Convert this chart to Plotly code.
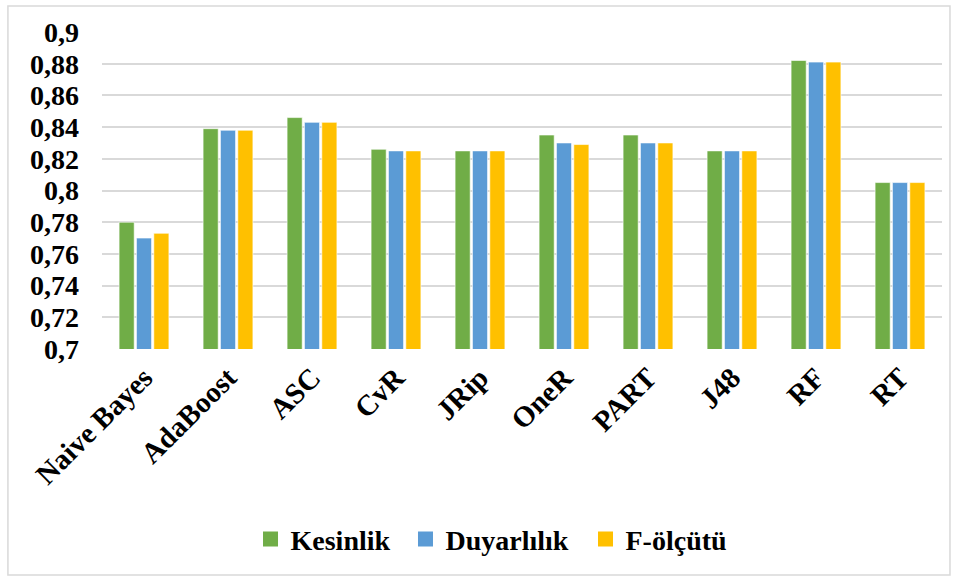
import plotly.graph_objects as go

categories = ["Naive Bayes", "AdaBoost", "ASC", "CvR", "JRip", "OneR", "PART", "J48", "RF", "RT"]
kesinlik = [0.780, 0.839, 0.846, 0.826, 0.825, 0.835, 0.835, 0.825, 0.882, 0.805]
duyarlilik = [0.770, 0.838, 0.843, 0.825, 0.825, 0.830, 0.830, 0.825, 0.881, 0.805]
f_olcutu = [0.773, 0.838, 0.843, 0.825, 0.825, 0.829, 0.830, 0.825, 0.881, 0.805]

tick_vals = [0.70, 0.72, 0.74, 0.76, 0.78, 0.80, 0.82, 0.84, 0.86, 0.88, 0.90]
tick_text = ["0,7", "0,72", "0,74", "0,76", "0,78", "0,8", "0,82", "0,84", "0,86", "0,88", "0,9"]

series = [
    ("Kesinlik", kesinlik, "#70AD47"),
    ("Duyarlılık", duyarlilik, "#5B9BD5"),
    ("F-ölçütü", f_olcutu, "#FFC000"),
]

FONT = "'Liberation Serif', 'Times New Roman', serif"

fig = go.Figure()
for name, vals, color in series:
    fig.add_trace(go.Bar(
        x=categories, y=vals, name=name, showlegend=False,
        marker=dict(color=color, line=dict(color="rgba(255,255,255,0.6)", width=1)),
    ))

# one legend per series so each entry can be placed on its own
legend_ids = ["legend", "legend2", "legend3"]
legend_x = [0.1768, 0.3613, 0.5756]
for (name, vals, color), lid in zip(series, legend_ids):
    fig.add_trace(go.Scatter(
        x=[None], y=[None], mode="markers", name=name, legend=lid,
        marker=dict(symbol="square", size=15, color=color),
    ))

legend_style = dict(
    orientation="h", xanchor="left", y=-0.60, yanchor="middle",
    font=dict(family=FONT, size=28, color="black", weight="bold"),
    itemsizing="trace", bgcolor="rgba(0,0,0,0)",
)
layout_legends = {lid: dict(legend_style, x=lx) for lid, lx in zip(legend_ids, legend_x)}

fig.update_layout(
    width=958, height=579,
    margin=dict(l=102, r=16, t=32, b=230),
    paper_bgcolor="white", plot_bgcolor="white",
    barmode="group", bargap=0.38, bargroupgap=0.13,
    font=dict(family=FONT, color="black"),
    showlegend=True,
    xaxis=dict(
        tickangle=-45, showgrid=False, showline=False, ticks="",
        ticklabelstandoff=5,
        tickfont=dict(family=FONT, size=29, color="black", weight="bold"),
    ),
    yaxis=dict(
        range=[0.7, 0.9], tickvals=tick_vals, ticktext=tick_text,
        showgrid=True, gridcolor="#D9D9D9", gridwidth=2,
        zeroline=False, showline=False, ticks="",
        ticklabelstandoff=22,
        tickfont=dict(family=FONT, size=28, color="black", weight="bold"),
    ),
    shapes=[dict(
        type="rect", xref="paper", yref="paper",
        x0=-0.112, x1=1.0095, y0=-0.713, y1=1.082,
        line=dict(color="#D9D9D9", width=1.5), fillcolor="rgba(0,0,0,0)", layer="below",
    )],
    **layout_legends,
)

fig.write_html("out.html")
